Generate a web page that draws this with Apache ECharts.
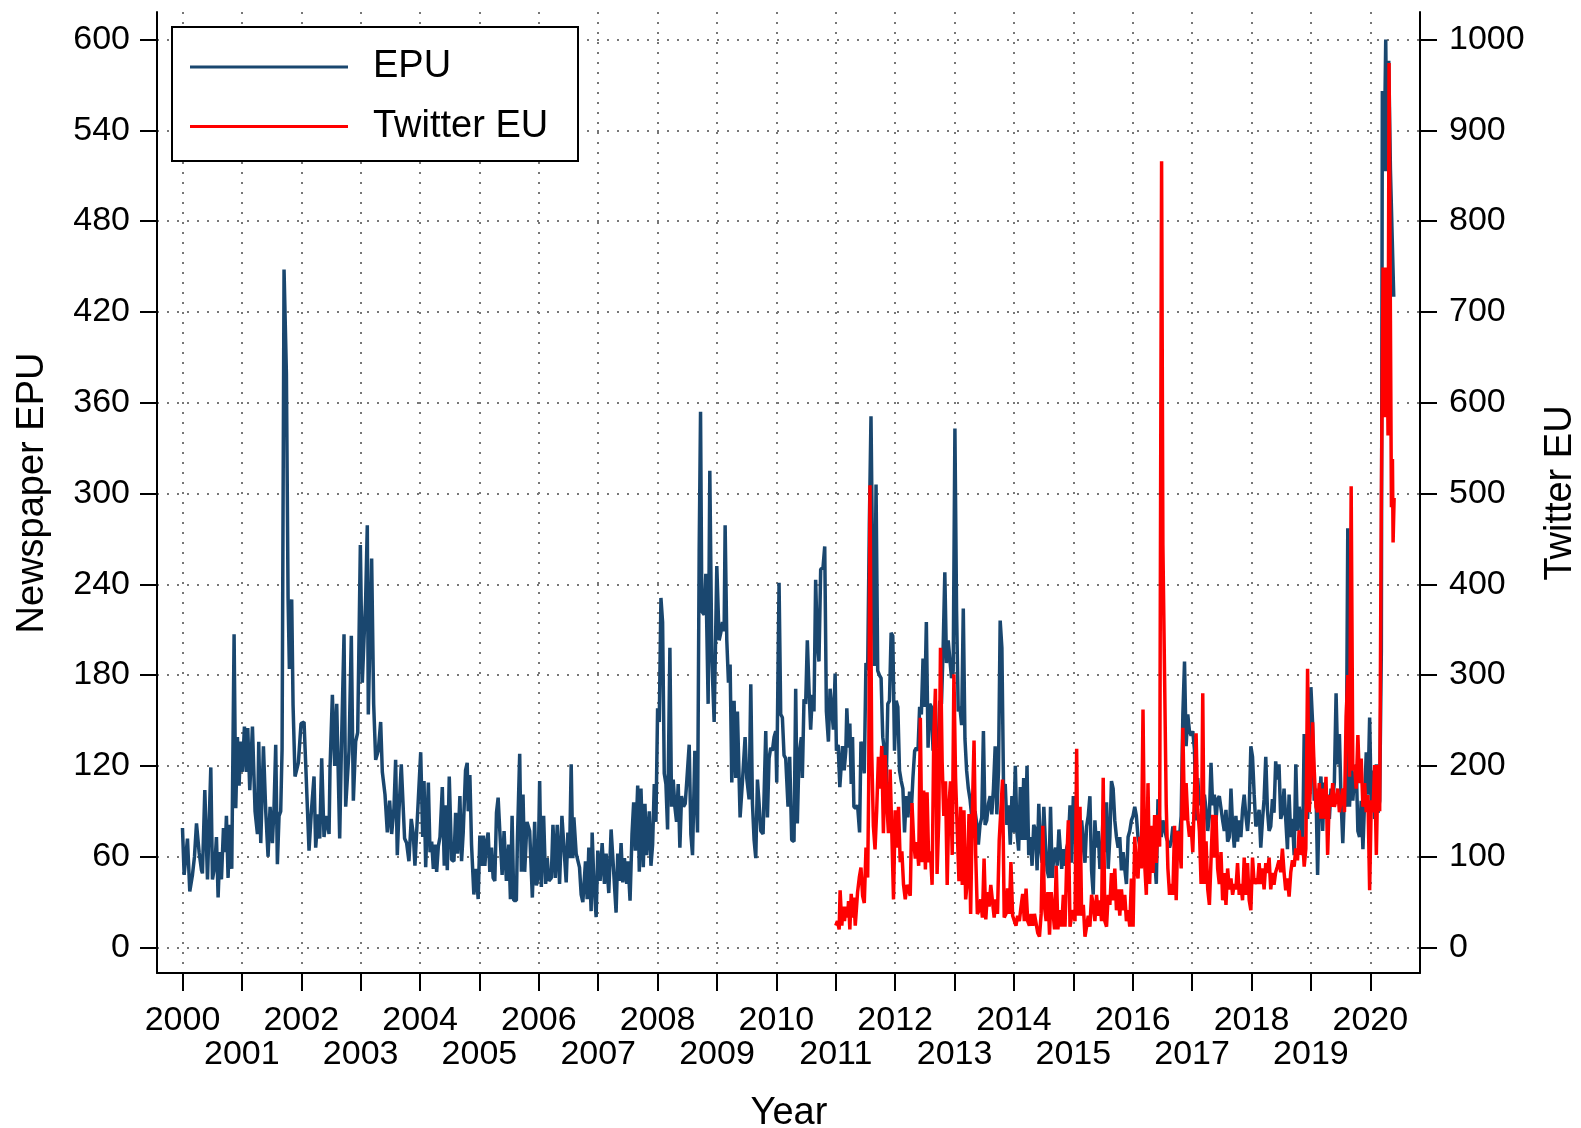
<!DOCTYPE html>
<html>
<head>
<meta charset="utf-8">
<script src="https://cdn.jsdelivr.net/npm/echarts@6/dist/echarts.min.js"></script>
<style>
  html, body { margin: 0; padding: 0; background: #fff; }
  #chart { width: 1581px; height: 1128px; }
</style>
</head>
<body>
<div id="chart"></div>
<script>
// tick labels
const yearTicks = [2000, 2001, 2002, 2003, 2004, 2005, 2006, 2007, 2008, 2009, 2010,
  2011, 2012, 2013, 2014, 2015, 2016, 2017, 2018, 2019, 2020];
const evenYearLabels = [2000, 2002, 2004, 2006, 2008, 2010, 2012, 2014, 2016, 2018, 2020];
const oddYearLabels = [2001, 2003, 2005, 2007, 2009, 2011, 2013, 2015, 2017, 2019];
const epuTicks = [0, 60, 120, 180, 240, 300, 360, 420, 480, 540, 600];
const twitterTicks = [0, 100, 200, 300, 400, 500, 600, 700, 800, 900, 1000];

// Newspaper EPU, [year, value]
const epu2000 = [[2000.000,79],[2000.028,48],[2000.084,72],[2000.123,37],[2000.168,48],[2000.202,60],[2000.236,82],[2000.280,63],[2000.320,51],[2000.336,49],[2000.376,104],[2000.421,45],[2000.477,119],[2000.505,45],[2000.544,54],[2000.572,73],[2000.600,33],[2000.628,63],[2000.656,45],[2000.690,79],[2000.718,63],[2000.740,87],[2000.768,46],[2000.796,81],[2000.830,52],[2000.869,207],[2000.897,92],[2000.925,139],[2000.953,107],[2000.981,136],
  [2001.009,116],[2001.043,146],[2001.077,116],[2001.099,145],[2001.133,104],[2001.178,146],[2001.222,90],[2001.262,75],[2001.284,136],[2001.318,69],[2001.363,133],[2001.402,90],[2001.441,60],[2001.475,93],[2001.514,69],[2001.542,93],[2001.570,134],[2001.598,55],[2001.626,87],[2001.654,90],[2001.677,131],[2001.710,448],[2001.750,379],[2001.778,231],[2001.800,184],[2001.839,230],[2001.862,160],[2001.895,113],[2001.923,113],[2001.951,122],[2001.996,148],
  [2002.047,149],[2002.075,121],[2002.131,64],[2002.170,90],[2002.215,113],[2002.243,66],[2002.283,88],[2002.311,72],[2002.344,125],[2002.383,73],[2002.423,87],[2002.468,75],[2002.484,118],[2002.524,167],[2002.563,120],[2002.597,161],[2002.647,72],[2002.675,130],[2002.720,207],[2002.748,93],[2002.804,130],[2002.843,206],[2002.877,97],[2002.916,136],[2002.950,142],[2002.995,266],
  [2003.028,175],[2003.056,203],[2003.084,230],[2003.112,279],[2003.129,154],[2003.185,257],[2003.219,161],[2003.253,124],[2003.297,130],[2003.337,149],[2003.365,116],[2003.410,101],[2003.449,76],[2003.488,97],[2003.522,75],[2003.561,92],[2003.589,124],[2003.617,61],[2003.645,90],[2003.684,121],[2003.740,72],[2003.774,69],[2003.813,57],[2003.852,85],[2003.886,75],[2003.914,54]];

const epu2004 = [[2004.011,129],[2004.045,73],[2004.067,110],[2004.095,53],[2004.140,109],[2004.168,63],[2004.196,70],[2004.224,52],[2004.252,68],[2004.280,50],[2004.308,67],[2004.336,73],[2004.375,106],[2004.408,54],[2004.431,94],[2004.459,51],[2004.492,113],[2004.531,58],[2004.571,57],[2004.599,89],[2004.632,62],[2004.671,100],[2004.699,57],[2004.727,76],[2004.766,117],[2004.794,122],[2004.811,90],[2004.839,114],[2004.867,68],[2004.906,35],[2004.940,52],[2004.979,32],
  [2005.007,74],[2005.035,54],[2005.063,74],[2005.091,54],[2005.119,70],[2005.147,76],[2005.175,50],[2005.203,66],[2005.231,46],[2005.259,44],[2005.287,89],[2005.315,99],[2005.343,77],[2005.382,48],[2005.415,77],[2005.454,44],[2005.494,68],[2005.522,32],[2005.550,87],[2005.578,31],[2005.622,31],[2005.639,70],[2005.678,128],[2005.706,50],[2005.734,101],[2005.762,50],[2005.801,83],[2005.846,77],[2005.891,33],[2005.930,83],[2005.958,41],[2005.986,46],
  [2006.014,110],[2006.042,40],[2006.081,87],[2006.115,42],[2006.142,59],[2006.170,44],[2006.210,46],[2006.238,81],[2006.277,46],[2006.310,81],[2006.349,42],[2006.389,87],[2006.417,86],[2006.461,43],[2006.489,76],[2006.517,59],[2006.545,121],[2006.573,59],[2006.590,86],[2006.629,62],[2006.685,53],[2006.713,35],[2006.741,30],[2006.786,57],[2006.814,32],[2006.842,66],[2006.881,24],[2006.898,76],[2006.926,44],[2006.965,20],[2006.993,64],
  [2007.032,44],[2007.066,69],[2007.105,42],[2007.133,62],[2007.178,36],[2007.217,78],[2007.256,53],[2007.301,23],[2007.329,62],[2007.357,44],[2007.385,69],[2007.413,43],[2007.441,59],[2007.480,42],[2007.502,57],[2007.536,31],[2007.569,75],[2007.597,96],[2007.625,64],[2007.665,107],[2007.692,50],[2007.720,105],[2007.759,53],[2007.787,95],[2007.815,61]];

const epu2008 = [[2007.860,90],[2007.888,54],[2007.916,68],[2007.944,108],[2007.972,83],
  [2008.000,158],[2008.028,149],[2008.056,231],[2008.084,215],[2008.112,115],[2008.140,108],[2008.168,78],[2008.207,198],[2008.235,93],[2008.263,111],[2008.291,93],[2008.319,83],[2008.347,108],[2008.375,66],[2008.403,100],[2008.437,93],[2008.465,95],[2008.493,111],[2008.532,134],[2008.560,75],[2008.588,61],[2008.627,130],[2008.672,76],[2008.700,262],[2008.723,354],[2008.745,222],[2008.784,220],[2008.812,247],[2008.851,161],[2008.879,315],[2008.913,191],[2008.952,149],[2008.997,252],
  [2009.036,203],[2009.064,208],[2009.092,215],[2009.120,209],[2009.137,279],[2009.165,203],[2009.193,175],[2009.221,187],[2009.249,109],[2009.288,163],[2009.316,112],[2009.344,156],[2009.389,86],[2009.429,110],[2009.473,139],[2009.501,112],[2009.541,98],[2009.569,174],[2009.597,95],[2009.625,71],[2009.653,59],[2009.681,111],[2009.709,95],[2009.737,77],[2009.776,75],[2009.821,143],[2009.849,86],[2009.877,125],[2009.905,132],[2009.933,130],[2009.961,139],[2009.989,143],
  [2010.006,109],[2010.045,241],[2010.073,154],[2010.101,152],[2010.129,127],[2010.157,125],[2010.196,93],[2010.224,126],[2010.258,71],[2010.297,70],[2010.325,171],[2010.353,82],[2010.381,127],[2010.420,139],[2010.437,112],[2010.465,164],[2010.493,161],[2010.521,203],[2010.549,171],[2010.577,144],[2010.605,167],[2010.633,156],[2010.661,243],[2010.689,202],[2010.717,189]];

const epu2011 = [[2010.746,250],[2010.785,251],[2010.814,265],[2010.842,156],[2010.876,136],[2010.904,171],[2010.932,171],[2010.960,144],[2010.989,181],
  [2011.011,130],[2011.040,134],[2011.068,106],[2011.113,133],[2011.141,117],[2011.169,130],[2011.186,158],[2011.215,132],[2011.237,148],[2011.260,108],[2011.282,139],[2011.305,93],[2011.339,92],[2011.367,94],[2011.401,76],[2011.424,136],[2011.452,132],[2011.480,115],[2011.508,188],[2011.537,183],[2011.565,279],[2011.593,351],[2011.621,249],[2011.650,186],[2011.678,306],[2011.706,183],[2011.734,180],[2011.763,178],[2011.791,139],[2011.819,130],[2011.847,105],[2011.876,161],[2011.904,163],[2011.932,208],[2011.960,206],[2011.989,130],
  [2012.017,163],[2012.045,159],[2012.073,117],[2012.102,110],[2012.130,105],[2012.158,76],[2012.186,100],[2012.215,86],[2012.243,103],[2012.271,90],[2012.299,112],[2012.328,130],[2012.356,132],[2012.384,130],[2012.412,159],[2012.441,154],[2012.469,191],[2012.497,159],[2012.525,215],[2012.554,132],[2012.582,161],[2012.610,159],[2012.638,130],[2012.667,144],[2012.695,139],[2012.723,132],[2012.751,163],[2012.780,161],[2012.808,198],[2012.836,248],[2012.864,188],[2012.893,203],[2012.921,203],[2012.949,178],[2012.977,183],
  [2013.006,343],[2013.034,222],[2013.062,156],[2013.090,159],[2013.119,147],[2013.147,224],[2013.175,138],[2013.203,117],[2013.232,105],[2013.260,98],[2013.288,87],[2013.316,78],[2013.345,90],[2013.373,82],[2013.401,68],[2013.429,81],[2013.458,86],[2013.486,143],[2013.514,81],[2013.542,84],[2013.571,95],[2013.599,100],[2013.627,88],[2013.655,105],[2013.684,133],[2013.712,88],[2013.740,117],[2013.768,216],[2013.797,198],[2013.825,105],[2013.853,108],[2013.881,81],[2013.910,94],[2013.938,68],[2013.966,100],[2013.994,76],
  [2014.023,120],[2014.051,76],[2014.079,64],[2014.107,106],[2014.136,71],[2014.164,112],[2014.192,71],[2014.220,120],[2014.249,61],[2014.277,73],[2014.305,54],[2014.333,81],[2014.362,78],[2014.390,51],[2014.418,95],[2014.446,66],[2014.475,56],[2014.503,93],[2014.531,68],[2014.559,51],[2014.588,46],[2014.616,93],[2014.644,46],[2014.672,61],[2014.701,66],[2014.729,54],[2014.757,78]];

const epu2015 = [[2014.804,52],[2014.832,65],[2014.860,54],[2014.888,66],[2014.916,70],[2014.944,94],[2014.972,56],
  [2015.000,100],[2015.028,87],[2015.056,59],[2015.084,77],[2015.112,52],[2015.140,84],[2015.168,70],[2015.196,56],[2015.223,80],[2015.251,87],[2015.279,100],[2015.307,51],[2015.335,35],[2015.363,84],[2015.391,66],[2015.419,77],[2015.447,52],[2015.475,56],[2015.503,91],[2015.531,63],[2015.559,96],[2015.587,52],[2015.615,73],[2015.642,110],[2015.670,105],[2015.698,84],[2015.726,73],[2015.754,66],[2015.782,73],[2015.810,51],[2015.838,63],[2015.866,52],[2015.894,42],[2015.922,73],[2015.950,77],[2015.978,84],
  [2016.006,87],[2016.034,93],[2016.061,87],[2016.089,73],[2016.117,72],[2016.145,63],[2016.173,70],[2016.201,80],[2016.229,72],[2016.257,70],[2016.285,77],[2016.313,73],[2016.341,66],[2016.369,59],[2016.397,42],[2016.425,98],[2016.453,84],[2016.480,73],[2016.508,84],[2016.536,84],[2016.564,73],[2016.592,70],[2016.620,66],[2016.648,70],[2016.676,80],[2016.704,70],[2016.732,73],[2016.760,77],[2016.788,73],[2016.816,87],[2016.844,154],[2016.872,189],[2016.899,133],[2016.927,154],[2016.955,143],[2016.983,140],
  [2017.011,143],[2017.039,131],[2017.067,84],[2017.095,112],[2017.123,94],[2017.151,98],[2017.179,84],[2017.207,101],[2017.235,91],[2017.263,77],[2017.291,87],[2017.318,122],[2017.346,94],[2017.374,101],[2017.402,84],[2017.430,98],[2017.458,100],[2017.486,101],[2017.514,84],[2017.542,77],[2017.570,91],[2017.598,70],[2017.626,73],[2017.654,105],[2017.682,80],[2017.710,66],[2017.737,87],[2017.765,70],[2017.793,84],[2017.821,73],[2017.849,91],[2017.877,101],[2017.905,87],[2017.933,77],[2017.961,91],[2017.989,133],
  [2018.017,126],[2018.045,101],[2018.073,80],[2018.101,84],[2018.128,91],[2018.156,66],[2018.184,84],[2018.212,98],[2018.240,126],[2018.268,91],[2018.296,77],[2018.324,80],[2018.352,98]];

const epu2019 = [[2018.379,89],[2018.407,123],[2018.435,111],[2018.463,121],[2018.492,85],[2018.520,89],[2018.548,105],[2018.576,85],[2018.605,65],[2018.633,101],[2018.661,73],[2018.689,85],[2018.718,61],[2018.746,121],[2018.774,77],[2018.802,93],[2018.831,85],[2018.859,61],[2018.887,141],[2018.915,117],[2018.944,85],[2018.972,121],
  [2019.000,172],[2019.028,149],[2019.056,97],[2019.085,105],[2019.113,48],[2019.141,97],[2019.169,113],[2019.198,77],[2019.226,109],[2019.254,85],[2019.282,101],[2019.311,85],[2019.339,105],[2019.367,97],[2019.395,109],[2019.424,168],[2019.452,121],[2019.480,141],[2019.508,97],[2019.537,69],[2019.565,101],[2019.593,93],[2019.621,277],[2019.650,93],[2019.678,121],[2019.706,97],[2019.734,113],[2019.763,121],[2019.791,77],[2019.819,73],[2019.847,97],[2019.876,65],[2019.904,97],[2019.932,129],[2019.960,101],[2019.989,152],
  [2020.017,93],[2020.045,117],[2020.073,85],[2020.102,121],[2020.130,89],[2020.158,97],[2020.186,196],[2020.203,566],[2020.232,513],[2020.260,600],[2020.282,513],[2020.311,586],[2020.339,514],[2020.367,515],[2020.395,430]];

// Twitter EU, [year, value]
const tw2011 = [[2011.000,24],[2011.028,29],[2011.057,20],[2011.073,63],[2011.102,24],[2011.124,45],[2011.147,29],[2011.170,45],[2011.198,33],[2011.215,51],[2011.237,20],[2011.260,59],[2011.283,33],[2011.305,55],[2011.328,24],[2011.367,61],[2011.396,77],[2011.424,88],[2011.452,57],[2011.480,49],[2011.509,110],[2011.537,77],[2011.554,175],[2011.576,509],[2011.605,216],[2011.633,134],[2011.661,108],[2011.689,151],[2011.718,210],[2011.746,175],[2011.774,222],[2011.802,126],[2011.831,212],[2011.859,159],[2011.887,126],[2011.915,196],[2011.944,126],[2011.972,53],
  [2012.000,151],[2012.028,110],[2012.057,155],[2012.085,94],[2012.113,106],[2012.141,69],[2012.170,53],[2012.198,69],[2012.226,69],[2012.254,57],[2012.283,159],[2012.311,118],[2012.339,98],[2012.367,116],[2012.396,90],[2012.424,253],[2012.452,94],[2012.480,173],[2012.509,86],[2012.537,171],[2012.565,94],[2012.593,106],[2012.622,69],[2012.650,232],[2012.678,285],[2012.706,81],[2012.735,143],[2012.763,330],[2012.791,204],[2012.819,145],[2012.848,183],[2012.876,69],[2012.904,155],[2012.932,183],[2012.961,102],[2012.989,301],
  [2013.017,187],[2013.045,130],[2013.074,73],[2013.102,155],[2013.130,69],[2013.158,151],[2013.187,53],[2013.215,73],[2013.243,147],[2013.271,37],[2013.300,151],[2013.328,228],[2013.356,102],[2013.384,37],[2013.413,41],[2013.441,53],[2013.469,33],[2013.497,98],[2013.526,31],[2013.554,61],[2013.582,45],[2013.610,69],[2013.639,69],[2013.667,33],[2013.695,53],[2013.723,37],[2013.752,118],[2013.780,118],[2013.808,185],[2013.836,33],[2013.865,37],[2013.893,65],[2013.921,37],[2013.949,94],[2013.978,35],
  [2014.006,37],[2014.034,24],[2014.062,35],[2014.091,29],[2014.119,45],[2014.147,59],[2014.175,29],[2014.204,65],[2014.232,29],[2014.260,24],[2014.288,37],[2014.317,24],[2014.345,37],[2014.373,35],[2014.401,16],[2014.430,12],[2014.458,37],[2014.486,134],[2014.514,45],[2014.542,29],[2014.571,61],[2014.599,14],[2014.627,61],[2014.655,41],[2014.684,20],[2014.712,90],[2014.740,20],[2014.768,41]];

const tw2015 = [[2014.804,23],[2014.832,58],[2014.860,23],[2014.888,93],[2014.916,140],[2014.944,23],[2014.972,35],
  [2015.000,41],[2015.028,29],[2015.056,219],[2015.084,35],[2015.112,155],[2015.140,35],[2015.168,47],[2015.196,12],[2015.223,23],[2015.251,35],[2015.279,23],[2015.307,58],[2015.335,47],[2015.363,29],[2015.391,58],[2015.419,35],[2015.447,52],[2015.475,29],[2015.503,187],[2015.531,29],[2015.559,23],[2015.587,58],[2015.615,47],[2015.642,82],[2015.670,52],[2015.698,87],[2015.726,41],[2015.754,64],[2015.782,35],[2015.810,64],[2015.838,41],[2015.866,58],[2015.894,29],[2015.922,41],[2015.950,23],[2015.978,76],
  [2016.006,23],[2016.034,122],[2016.061,87],[2016.089,76],[2016.117,122],[2016.145,87],[2016.173,262],[2016.201,93],[2016.229,58],[2016.257,181],[2016.285,70],[2016.313,134],[2016.341,82],[2016.369,146],[2016.397,93],[2016.425,146],[2016.453,111],[2016.469,490],[2016.486,866],[2016.508,443],[2016.536,300],[2016.564,157],[2016.592,87],[2016.620,58],[2016.648,70],[2016.676,58],[2016.704,134],[2016.732,52],[2016.760,128],[2016.788,117],[2016.816,87],[2016.844,242],[2016.872,140],[2016.899,181],[2016.927,140],[2016.955,122],[2016.983,134],
  [2017.011,105],[2017.039,169],[2017.067,236],[2017.095,152],[2017.123,128],[2017.151,70],[2017.179,280],[2017.207,70],[2017.235,117],[2017.263,64],[2017.291,47],[2017.318,47],[2017.346,146],[2017.374,99],[2017.402,146],[2017.430,87],[2017.458,70],[2017.486,105],[2017.514,52],[2017.542,82],[2017.570,47],[2017.598,87],[2017.626,64],[2017.654,76],[2017.682,58],[2017.710,70],[2017.737,64],[2017.765,93],[2017.793,58],[2017.821,70],[2017.849,52],[2017.877,99],[2017.905,58],[2017.933,93],[2017.961,52],[2017.989,41],
  [2018.017,99],[2018.045,70],[2018.073,76],[2018.101,70],[2018.128,93],[2018.156,70],[2018.184,87],[2018.212,64],[2018.240,93],[2018.268,82],[2018.296,99],[2018.324,64],[2018.352,82]];

const tw2019 = [[2018.379,69],[2018.407,83],[2018.435,89],[2018.463,96],[2018.492,83],[2018.520,109],[2018.548,83],[2018.576,63],[2018.605,76],[2018.633,56],[2018.661,83],[2018.689,96],[2018.718,89],[2018.746,109],[2018.774,96],[2018.802,129],[2018.831,102],[2018.859,122],[2018.887,89],[2018.915,109],[2018.944,307],[2018.972,149],
  [2019.000,188],[2019.028,248],[2019.056,195],[2019.085,155],[2019.113,149],[2019.141,181],[2019.169,142],[2019.198,175],[2019.226,142],[2019.254,188],[2019.282,102],[2019.311,168],[2019.339,155],[2019.367,181],[2019.395,155],[2019.424,162],[2019.452,175],[2019.480,149],[2019.508,162],[2019.537,175],[2019.565,149],[2019.593,254],[2019.621,300],[2019.650,188],[2019.678,508],[2019.706,195],[2019.734,201],[2019.763,175],[2019.791,234],[2019.819,181],[2019.847,208],[2019.876,155],[2019.904,181],[2019.932,149],[2019.960,168],[2019.989,63],
  [2020.017,162],[2020.045,149],[2020.073,201],[2020.102,102],[2020.130,201],[2020.158,150],[2020.186,492],[2020.215,749],[2020.243,584],[2020.271,749],[2020.299,564],[2020.316,974],[2020.339,690],[2020.356,485],[2020.373,538],[2020.384,446],[2020.401,495]];

const epuData = [].concat(epu2000, epu2004, epu2008, epu2011, epu2015, epu2019);
const twitterData = [].concat(tw2011, tw2015, tw2019);

const FONT = '"Liberation Sans", Arial, sans-serif';
const gridDots = { color: '#777', width: 2, type: [2, 8] };
const axisBlack = { color: '#000', width: 2 };
const xMin = 1999.571;
const xMax = 2020.837;

const chart = echarts.init(document.getElementById('chart'), null, { renderer: 'canvas' });

chart.setOption({
  animation: false,
  backgroundColor: '#fff',
  textStyle: { fontFamily: FONT },
  grid: { left: 157, right: 161, top: 12, bottom: 155 },
  legend: {
    left: 190,
    top: 46.5,
    orient: 'vertical',
    padding: 0,
    icon: 'rect',
    itemWidth: 158,
    itemHeight: 3,
    itemGap: 18.5,
    textStyle: { fontSize: 38, lineHeight: 36, color: '#000', fontFamily: FONT, padding: [5, 0, 0, 20] },
    data: ['EPU', 'Twitter EU']
  },
  xAxis: [
    {
      type: 'value',
      position: 'bottom',
      min: xMin,
      max: xMax,
      axisLine: { onZero: false, lineStyle: axisBlack },
      axisTick: { length: 18, lineStyle: axisBlack, customValues: yearTicks },
      axisLabel: {
        customValues: evenYearLabels,
        showMinLabel: true,
        showMaxLabel: true,
        hideOverlap: false,
        margin: 31,
        fontSize: 34,
        color: '#000',
        fontFamily: FONT,
        formatter: function (v) { return String(Math.round(v)); }
      },
      splitLine: { show: true, lineStyle: gridDots }
    },
    {
      type: 'value',
      position: 'bottom',
      min: xMin,
      max: xMax,
      axisLine: { show: false, onZero: false },
      axisTick: { show: false },
      axisLabel: {
        customValues: oddYearLabels,
        showMinLabel: true,
        showMaxLabel: true,
        hideOverlap: false,
        margin: 65,
        fontSize: 34,
        color: '#000',
        fontFamily: FONT,
        formatter: function (v) { return String(Math.round(v)); }
      },
      splitLine: { show: false }
    }
  ],
  yAxis: [
    {
      type: 'value',
      min: -16.85,
      max: 618.17,
      position: 'left',
      axisLine: { show: true, onZero: false, lineStyle: axisBlack },
      axisTick: { show: true, length: 17, lineStyle: axisBlack, customValues: epuTicks },
      axisLabel: { customValues: epuTicks, showMinLabel: true, showMaxLabel: true, margin: 27, fontSize: 34, color: '#000', fontFamily: FONT },
      splitLine: { show: true, lineStyle: gridDots }
    },
    {
      type: 'value',
      min: -28.08,
      max: 1030.28,
      position: 'right',
      axisLine: { show: true, onZero: false, lineStyle: axisBlack },
      axisTick: { show: true, length: 17, lineStyle: axisBlack, customValues: twitterTicks },
      axisLabel: {
        customValues: twitterTicks, showMinLabel: true, showMaxLabel: true, margin: 29, fontSize: 34, color: '#000', fontFamily: FONT,
        formatter: function (v) { return String(Math.round(v)); }
      },
      splitLine: { show: false }
    }
  ],
  series: [
    {
      name: 'EPU',
      type: 'line',
      xAxisIndex: 0,
      yAxisIndex: 0,
      data: epuData,
      showSymbol: false,
      symbol: 'none',
      color: '#1a476f',
      lineStyle: { color: '#1a476f', width: 3.5 },
      z: 2
    },
    {
      name: 'Twitter EU',
      type: 'line',
      xAxisIndex: 0,
      yAxisIndex: 1,
      data: twitterData,
      showSymbol: false,
      symbol: 'none',
      color: '#ff0000',
      lineStyle: { color: '#ff0000', width: 3.5 },
      z: 3
    }
  ],
  graphic: [
    {
      type: 'rect',
      z: 4,
      shape: { x: 172, y: 27, width: 406, height: 134 },
      style: { fill: '#fff', stroke: '#000', lineWidth: 2 }
    },
    {
      type: 'text',
      x: 33, y: 493, rotation: Math.PI / 2,
      style: { text: 'Newspaper EPU', font: '38px ' + FONT, fill: '#000', align: 'center', verticalAlign: 'middle' }
    },
    {
      type: 'text',
      x: 1561, y: 493, rotation: Math.PI / 2,
      style: { text: 'Twitter EU', font: '38px ' + FONT, fill: '#000', align: 'center', verticalAlign: 'middle' }
    },
    {
      type: 'text',
      x: 789, y: 1114,
      style: { text: 'Year', font: '38px ' + FONT, fill: '#000', align: 'center', verticalAlign: 'middle' }
    }
  ]
});
</script>
</body>
</html>
